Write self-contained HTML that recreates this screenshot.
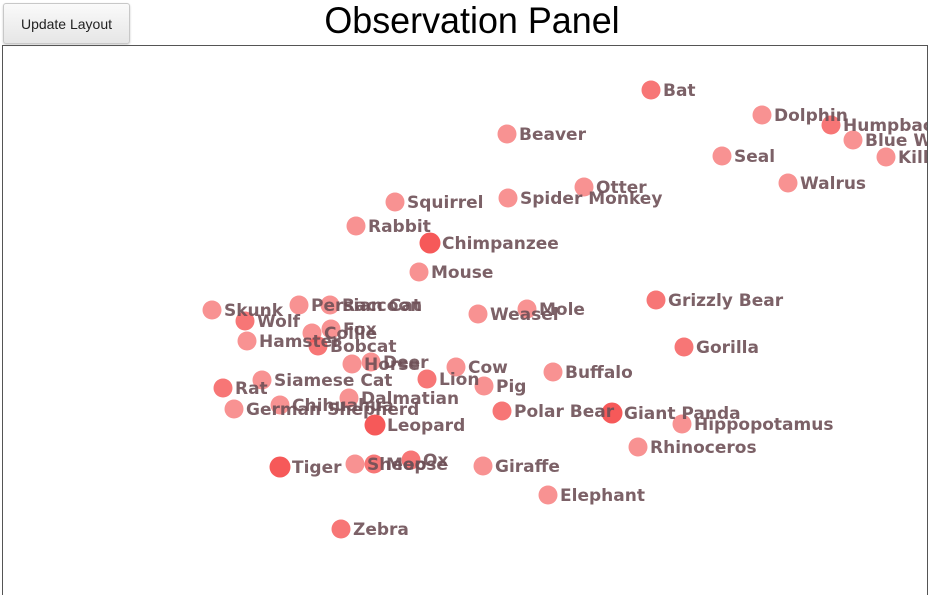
<!DOCTYPE html>
<html><head><meta charset="utf-8"><style>
html,body{margin:0;width:934px;height:595px;overflow:hidden}
body{background:#fff;font-family:"Liberation Sans",sans-serif;position:relative}
#btn{position:absolute;left:3px;top:3px;width:127px;height:41px;border:1px solid #c8c8c8;border-radius:3px;background:linear-gradient(#fafafa,#e6e6e6);font-size:14px;color:#222;box-sizing:border-box;display:flex;align-items:center;justify-content:center;box-shadow:0 1px 2px rgba(0,0,0,.2)}
#title{position:absolute;left:0;width:944px;top:0;text-align:center;font-size:37px;line-height:42px;color:#000;transform:scaleX(0.97)}
#panel{position:absolute;left:2px;top:45px;width:926px;height:550px;border:1px solid #555;border-bottom:none;box-sizing:border-box;overflow:hidden}
</style></head><body>
<div id="btn">Update Layout</div>
<div id="title">Observation Panel</div>
<div id="panel"><svg id="svg" width="926" height="550"></svg></div>
<script>
const names=["Bat","Dolphin","Humpback Whale","Blue Whale","Killer Whale","Beaver","Seal","Walrus","Otter","Spider Monkey","Squirrel","Rabbit","Chimpanzee","Mouse","Skunk","Persian Cat","Raccoon","Wolf","Mole","Weasel","Grizzly Bear","Collie","Fox","Hamster","Bobcat","Gorilla","Horse","Deer","Cow","Buffalo","Rat","Siamese Cat","Lion","Pig","Dalmatian","German Shepherd","Chihuahua","Polar Bear","Giant Panda","Leopard","Hippopotamus","Rhinoceros","Tiger","Sheep","Moose","Ox","Giraffe","Elephant","Zebra"];
const xs=[650,761,830,852,885,506,721,787,583,507,394,355,429,418,211,298,329,244,526,477,655,311,330,246,317,683,351,370,455,552,222,261,426,483,348,233,279,501,611,374,681,637,279,354,373,410,482,547,340];
const ys=[89,114,124,139,156,133,155,182,186,197,201,225,242,271,309,304,304,320,308,313,299,332,328,340,345,346,363,361,366,371,387,379,378,385,397,408,404,410,412,424,423,446,466,463,463,459,465,494,528];
const weights=[2,1,2,1,1,1,1,1,1,1,1,1,3,1,1,1,1,2,1,1,2,1,1,1,2,2,1,1,1,1,2,1,2,1,1,1,1,2,3,3,1,1,3,1,2,2,1,1,2];
const ox=2,oy=45;
const sx=v=>v-ox, sy=v=>v-oy;
const svg=document.getElementById('svg');
const NS="http://www.w3.org/2000/svg";
for(let i=0;i<names.length;i++){
  const c=document.createElementNS(NS,'circle');
  c.setAttribute('cx',sx(xs[i]));c.setAttribute('cy',sy(ys[i]));
  c.setAttribute('r',weights[i]>=3?10.5:9.5);
  c.setAttribute('fill',weights[i]>=3?'rgba(245,60,60,0.85)':weights[i]==2?'rgba(245,80,80,0.78)':'rgba(245,95,95,0.68)');
  
  
  svg.appendChild(c);
}
for(let i=0;i<names.length;i++){
  const t=document.createElementNS(NS,'text');
  t.setAttribute('x',sx(xs[i])+12);t.setAttribute('y',sy(ys[i])+6);
  t.setAttribute('font-family','"DejaVu Sans",sans-serif');
  t.setAttribute('font-weight','bold');t.setAttribute('font-size','17');
  t.setAttribute('fill','rgba(110,80,86,0.9)');
  t.textContent=names[i];
  
  
  svg.appendChild(t);
}
</script>
</body></html>
